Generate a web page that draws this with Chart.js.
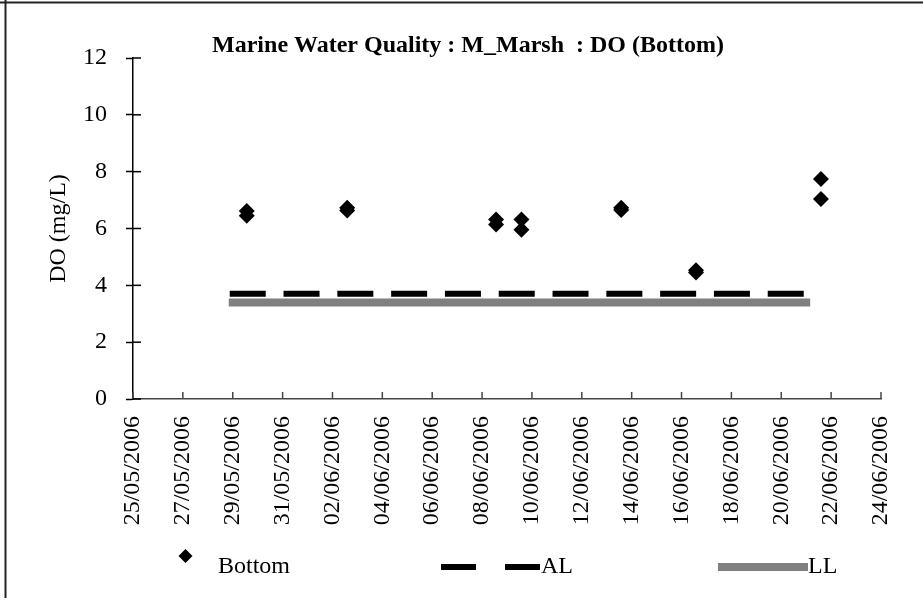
<!DOCTYPE html>
<html>
<head>
<meta charset="utf-8">
<title>Marine Water Quality : M_Marsh : DO (Bottom)</title>
<script src="https://cdn.jsdelivr.net/npm/chart.js@4.4.1/dist/chart.umd.min.js"></script>
<style>
  html, body { margin: 0; padding: 0; background: #fff; }
  #wrap { position: relative; width: 923px; height: 600px; }
</style>
</head>
<body>
<div id="wrap"><canvas id="chart" width="923" height="600"></canvas></div>
<script>
// sampling times (dd/mm/yyyy hh:mm), two bottom readings per visit
const sampleTimes = [
  '29/05/2006 13:30', '29/05/2006 13:30',
  '02/06/2006 14:10', '02/06/2006 14:10',
  '08/06/2006 13:30', '08/06/2006 13:30',
  '09/06/2006 13:55', '09/06/2006 13:55',
  '13/06/2006 13:55', '13/06/2006 13:55',
  '16/06/2006 13:55', '16/06/2006 13:55',
  '21/06/2006 14:10', '21/06/2006 14:10'
];
const bottomDO = [6.62, 6.45, 6.73, 6.63, 6.32, 6.14, 6.32, 5.96, 6.73, 6.65, 4.53, 4.45, 7.74, 7.04];

// action level / limit level
const limitDates = ['29/05/2006', '21/06/2006'];
const alLevel = [3.7, 3.7];
const llLevel = [3.4, 3.4];

const axisStart = '25/05/2006';
const axisEnd = '24/06/2006';
const dayStep = 2;
const yMin = 0, yMax = 12, yStep = 2;

const DAY = 86400000;
function toDay(s) {
  const [d, t] = s.split(' ');
  const [dd, mm, yy] = d.split('/').map(Number);
  const [hh, mi] = (t || '00:00').split(':').map(Number);
  return Date.UTC(yy, mm - 1, dd, hh, mi) / DAY;
}
function fmtDay(v) {
  const dt = new Date(Math.round(v) * DAY);
  const p = n => String(n).padStart(2, '0');
  return p(dt.getUTCDate()) + '/' + p(dt.getUTCMonth() + 1) + '/' + dt.getUTCFullYear();
}

const serif = "'Liberation Serif', 'Times New Roman', serif";
Chart.defaults.font.family = serif;
Chart.defaults.font.size = 24;
Chart.defaults.color = '#000';

// white background, outer frame, inward tick marks and the legend row
const frameAndLegend = {
  id: 'frameAndLegend',
  beforeDraw(chart) {
    const ctx = chart.ctx;
    ctx.save();
    ctx.fillStyle = '#fff';
    ctx.fillRect(0, 0, chart.width, chart.height);
    ctx.restore();
  },
  afterDraw(chart) {
    const { ctx, chartArea, scales } = chart;
    ctx.save();

    ctx.lineWidth = 1.5;
    ctx.strokeStyle = '#444';
    scales.x.ticks.forEach(t => {
      const px = scales.x.getPixelForValue(t.value);
      ctx.beginPath();
      ctx.moveTo(px, chartArea.bottom);
      ctx.lineTo(px, chartArea.bottom - 7);
      ctx.stroke();
    });
    ctx.strokeStyle = '#000';
    scales.y.ticks.forEach(t => {
      const py = scales.y.getPixelForValue(t.value);
      ctx.beginPath();
      ctx.moveTo(chartArea.left, py);
      ctx.lineTo(chartArea.left + 8, py);
      ctx.stroke();
    });

    // frame
    ctx.strokeStyle = '#222';
    ctx.lineWidth = 2;
    ctx.beginPath();
    ctx.moveTo(0, 2.5);
    ctx.lineTo(chart.width, 2.5);
    ctx.moveTo(5.5, 0);
    ctx.lineTo(5.5, 598);
    ctx.stroke();

    // legend
    const lineY = 567, textY = 573;
    const ds = chart.data.datasets;
    ctx.font = '24px ' + serif;
    ctx.fillStyle = '#000';
    ctx.textBaseline = 'alphabetic';

    // Bottom
    ctx.beginPath();
    ctx.moveTo(185.5, 549);
    ctx.lineTo(192.5, 556);
    ctx.lineTo(185.5, 563);
    ctx.lineTo(178.5, 556);
    ctx.closePath();
    ctx.fillStyle = ds[0].backgroundColor;
    ctx.fill();
    ctx.fillStyle = '#000';
    ctx.fillText(ds[0].label, 218, textY);

    // AL
    ctx.strokeStyle = ds[1].borderColor;
    ctx.lineWidth = ds[1].borderWidth;
    ctx.lineCap = 'square';
    ctx.setLineDash([29, 35]);
    ctx.beginPath();
    ctx.moveTo(444, lineY);
    ctx.lineTo(537, lineY);
    ctx.stroke();
    ctx.setLineDash([]);
    ctx.fillText(ds[1].label, 541, textY);

    // LL
    ctx.strokeStyle = ds[2].borderColor;
    ctx.lineWidth = ds[2].borderWidth;
    ctx.lineCap = 'butt';
    ctx.beginPath();
    ctx.moveTo(718, lineY);
    ctx.lineTo(808, lineY);
    ctx.stroke();
    ctx.fillText(ds[2].label, 808, textY);

    ctx.restore();
  }
};

new Chart(document.getElementById('chart'), {
  type: 'scatter',
  data: {
    datasets: [
      {
        label: 'Bottom',
        data: sampleTimes.map((t, i) => ({ x: toDay(t), y: bottomDO[i] })),
        pointStyle: 'rectRot',
        pointRadius: 8,
        pointHoverRadius: 8,
        backgroundColor: '#000',
        borderColor: '#000',
        borderWidth: 0,
        showLine: false,
        order: 0
      },
      {
        label: 'AL',
        data: limitDates.map((t, i) => ({ x: toDay(t), y: alLevel[i] })),
        showLine: true,
        borderColor: '#000',
        borderWidth: 6,
        borderDash: [30, 23.8],
        borderCapStyle: 'square',
        pointRadius: 0,
        order: 1
      },
      {
        label: 'LL',
        data: limitDates.map((t, i) => ({ x: toDay(t), y: llLevel[i] })),
        showLine: true,
        borderColor: '#808080',
        borderWidth: 8,
        borderCapStyle: 'square',
        pointRadius: 0,
        order: 2
      }
    ]
  },
  options: {
    responsive: false,
    animation: false,
    layout: { padding: { top: 0, left: 13, right: 0, bottom: 73 } },
    plugins: {
      legend: { display: false },
      tooltip: { enabled: false },
      title: {
        display: true,
        text: 'Marine Water Quality : M_Marsh  : DO (Bottom)',
        color: '#000',
        font: { size: 24, weight: 'bold', lineHeight: 1 },
        padding: { top: 34, bottom: 0 }
      }
    },
    scales: {
      x: {
        type: 'linear',
        min: toDay(axisStart),
        max: toDay(axisEnd),
        grid: { drawOnChartArea: false, drawTicks: false },
        border: { color: '#444', width: 1.5 },
        ticks: {
          stepSize: dayStep,
          autoSkip: false,
          maxRotation: 90,
          minRotation: 90,
          padding: 17,
          font: { size: 24 },
          callback: v => fmtDay(v)
        },
        afterFit(scale) {
          scale.height = 128;
          scale.paddingRight = 42;
        }
      },
      y: {
        min: yMin,
        max: yMax,
        grid: { drawOnChartArea: false, drawTicks: true, tickLength: 7, color: '#000', tickWidth: 1.5 },
        border: { color: '#000', width: 1.5 },
        ticks: { stepSize: yStep, padding: 19, font: { size: 24 } },
        title: {
          display: true,
          text: 'DO (mg/L)',
          font: { size: 24, lineHeight: 1 },
          padding: { top: 34, bottom: 0 }
        },
        afterFit(scale) {
          scale.width = 120;
        }
      }
    }
  },
  plugins: [frameAndLegend]
});
</script>
</body>
</html>
